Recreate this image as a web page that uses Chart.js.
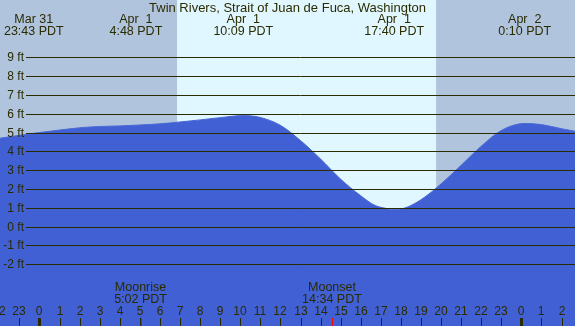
<!DOCTYPE html>
<html>
<head>
<meta charset="utf-8">
<script src="https://cdn.jsdelivr.net/npm/chart.js@4/dist/chart.umd.min.js"></script>
<style>
html, body { margin: 0; padding: 0; background: #b0c4de; }
</style>
</head>
<body>
<canvas id="tideChart" width="575" height="326"></canvas>
<script>
// tide height (ft) by hour since midnight Apr 1
const tideHours = [-2, -1, 0, 1, 2, 3, 4, 5, 6, 7, 8, 9, 10.15, 11, 12, 13, 14, 15, 16, 16.7, 17.2, 17.67, 18.2, 19, 20, 21, 22, 23, 24.17, 25, 26, 27];
const tideFeet  = [4.69, 4.85, 5.0, 5.13, 5.25, 5.32, 5.35, 5.40, 5.46, 5.56, 5.67, 5.79, 5.90, 5.80, 5.38, 4.57, 3.59, 2.52, 1.64, 1.13, 0.98, 0.91, 0.99, 1.43, 2.27, 3.26, 4.27, 5.11, 5.48, 5.42, 5.20, 5.00];

// high / low labels along the top
const eventHours = [-0.283, 4.8, 10.15, 17.667, 24.167];
const eventDates = ["Mar 31", "Apr  1", "Apr  1", "Apr  1", "Apr  2"];
const eventTimes = ["23:43 PDT", "4:48 PDT", "10:09 PDT", "17:40 PDT", "0:10 PDT"];

// daylight band
const sunHours = [6.85, 19.75];

// moon events
const moonHours = [5.033, 14.567];
const moonNames = ["Moonrise", "Moonset"];
const moonTimes = ["5:02 PDT", "14:34 PDT"];

// axis ticks
const feetTicks = [9, 8, 7, 6, 5, 4, 3, 2, 1, 0, -1, -2];
const hourTicks = [-2, -1, 0, 1, 2, 3, 4, 5, 6, 7, 8, 9, 10, 11, 12, 13, 14, 15, 16, 17, 18, 19, 20, 21, 22, 23, 24, 25, 26];

const title = "Twin Rivers, Strait of Juan de Fuca, Washington";

const ink = "#2b2b00";
const face = "'Liberation Sans', Arial, sans-serif";

const tidePoints = tideHours.map((h, i) => ({ x: h, y: tideFeet[i] }));

const decorPlugin = {
    id: "decor",
    beforeDraw(chart) {
        const ctx = chart.ctx;
        const xs = chart.scales.x;
        ctx.save();
        ctx.fillStyle = "#b0c4de";
        ctx.fillRect(0, 0, chart.width, chart.height);
        const x1 = xs.getPixelForValue(sunHours[0]);
        const x2 = xs.getPixelForValue(sunHours[1]);
        ctx.fillStyle = "#e0f7ff";
        ctx.fillRect(x1, 0, x2 - x1, chart.height);
        ctx.restore();
    },
    afterDatasetsDraw(chart) {
        const ctx = chart.ctx;
        const xs = chart.scales.x;
        const ys = chart.scales.y;
        ctx.save();
        ctx.font = "12px " + face;
        ctx.fillStyle = ink;
        ctx.strokeStyle = ink;
        ctx.lineWidth = 1;

        // horizontal lines + ft labels
        ctx.textAlign = "right";
        ctx.textBaseline = "middle";
        feetTicks.forEach(v => {
            const py = Math.round(ys.getPixelForValue(v)) + 0.5;
            ctx.beginPath();
            ctx.moveTo(26, py);
            ctx.lineTo(chart.width, py);
            ctx.stroke();
            ctx.fillText(v + " ft", 24, py);
        });

        // title and high/low labels
        ctx.textAlign = "center";
        ctx.font = "13px " + face;
        ctx.fillText(title, chart.width / 2, 8);
        ctx.font = "12.5px " + face;
        eventHours.forEach((h, i) => {
            const px = xs.getPixelForValue(h);
            ctx.fillText(eventDates[i], px, 20);
            ctx.fillText(eventTimes[i], px, 32);
        });

        // moon events
        moonHours.forEach((h, i) => {
            const px = xs.getPixelForValue(h);
            ctx.fillText(moonNames[i], px, 288);
            ctx.fillText(moonTimes[i], px, 300);
        });

        // hour ticks along the bottom
        ctx.font = "12px " + face;
        hourTicks.forEach(h => {
            const px = Math.round(xs.getPixelForValue(h));
            const hr = ((h % 24) + 24) % 24;
            ctx.fillText(String(hr), px, 312);
            if (hr === 0) {
                ctx.fillRect(px - 1, 318, 3, 8);
            } else {
                ctx.fillRect(px, 318, 1, 8);
            }
        });
        ctx.fillStyle = "#ff0000";
        moonHours.forEach(h => {
            ctx.fillRect(Math.round(xs.getPixelForValue(h)), 318, 1, 8);
        });
        ctx.restore();
    }
};

const tideChart = new Chart(document.getElementById("tideChart").getContext("2d"), {
    type: "line",
    data: {
        datasets: [{
            data: tidePoints,
            borderColor: "#4a68d6",
            borderWidth: 1,
            backgroundColor: "#4060d4",
            fill: "start",
            pointRadius: 0,
            cubicInterpolationMode: "monotone",
        }],
    },
    options: {
        responsive: false,
        animation: false,
        layout: { padding: 0 },
        plugins: {
            legend: { display: false },
            tooltip: { enabled: false },
        },
        scales: {
            x: { type: "linear", min: -1.967, max: 26.67, display: false },
            y: { type: "linear", min: -5.28, max: 12.04, display: false },
        },
    },
    plugins: [decorPlugin],
});
</script>
</body>
</html>
